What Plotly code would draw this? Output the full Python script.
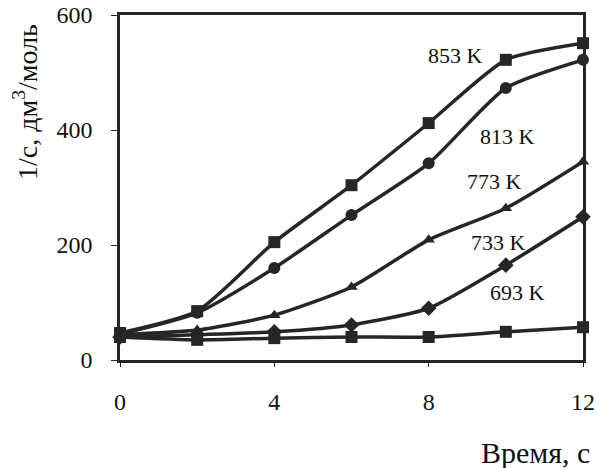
import plotly.graph_objects as go

time_s = [0, 2, 4, 6, 8, 10, 12]
series_names = ["853 K", "813 K", "773 K", "733 K", "693 K"]
v853 = [47, 85, 205, 304, 412, 522, 551]
v813 = [45, 82, 160, 252, 342, 473, 522]
v773 = [44, 52, 78, 127, 209, 264, 345]
v733 = [40, 44, 49, 61, 90, 165, 249]
v693 = [40, 35, 38, 40, 40, 49, 57]
series_values = [v853, v813, v773, v733, v693]
symbols = ["square", "circle", "triangle-up", "diamond", "square"]
label_x = [8.7, 10.05, 9.7, 9.8, 10.3]
label_y = [530, 388, 310, 205, 117]

x_ticks = [0, 4, 8, 12]
y_ticks = [0, 200, 400, 600]

col = "#262626"
font = "Liberation Serif"

fig = go.Figure()
for name, vals, sym in zip(series_names, series_values, symbols):
    fig.add_trace(go.Scatter(
        x=time_s, y=vals, mode="lines+markers", name=name,
        line=dict(color=col, width=3.5, shape="spline", smoothing=0.6),
        marker=dict(symbol=sym, size=12 if sym != "triangle-up" else 11, color=col),
        showlegend=False, cliponaxis=False))

for name, lx, ly in zip(series_names, label_x, label_y):
    fig.add_annotation(x=lx, y=ly, text=name, showarrow=False,
                       font=dict(family=font, size=22, color="#111"))

fig.add_annotation(xref="paper", yref="paper", x=1.019, y=-0.267, xanchor="right",
                   yanchor="middle", text="Время, с", showarrow=False,
                   font=dict(family=font, size=30, color="#111"))
fig.add_annotation(xref="paper", yref="paper", x=-0.203, y=0.748, xanchor="center",
                   yanchor="middle", text="1/с, дм<sup>3</sup>/моль", textangle=-90,
                   showarrow=False, font=dict(family=font, size=28, color="#111"))

fig.update_xaxes(range=[0, 12], tickvals=x_ticks, showgrid=False, zeroline=False,
                 showline=True, linecolor=col, linewidth=2.5, mirror=True,
                 ticks="outside", ticklen=4, tickcolor=col, ticklabelstandoff=14,
                 automargin=False,
                 tickfont=dict(family=font, size=24, color="#111"))
fig.update_yaxes(range=[0, 600], tickvals=y_ticks, showgrid=False, zeroline=False,
                 showline=True, linecolor=col, linewidth=2.5, mirror=True,
                 ticks="outside", ticklen=6, tickcolor=col, ticklabelstandoff=14,
                 automargin=False,
                 tickfont=dict(family=font, size=24, color="#111"))

fig.update_layout(width=598, height=468, plot_bgcolor="white", paper_bgcolor="white",
                  margin=dict(l=120, r=15, t=15, b=108, autoexpand=False))
fig.write_html("out.html", config={"displayModeBar": False},
               post_script="document.body.style.margin='0';document.body.style.overflow='hidden';")
